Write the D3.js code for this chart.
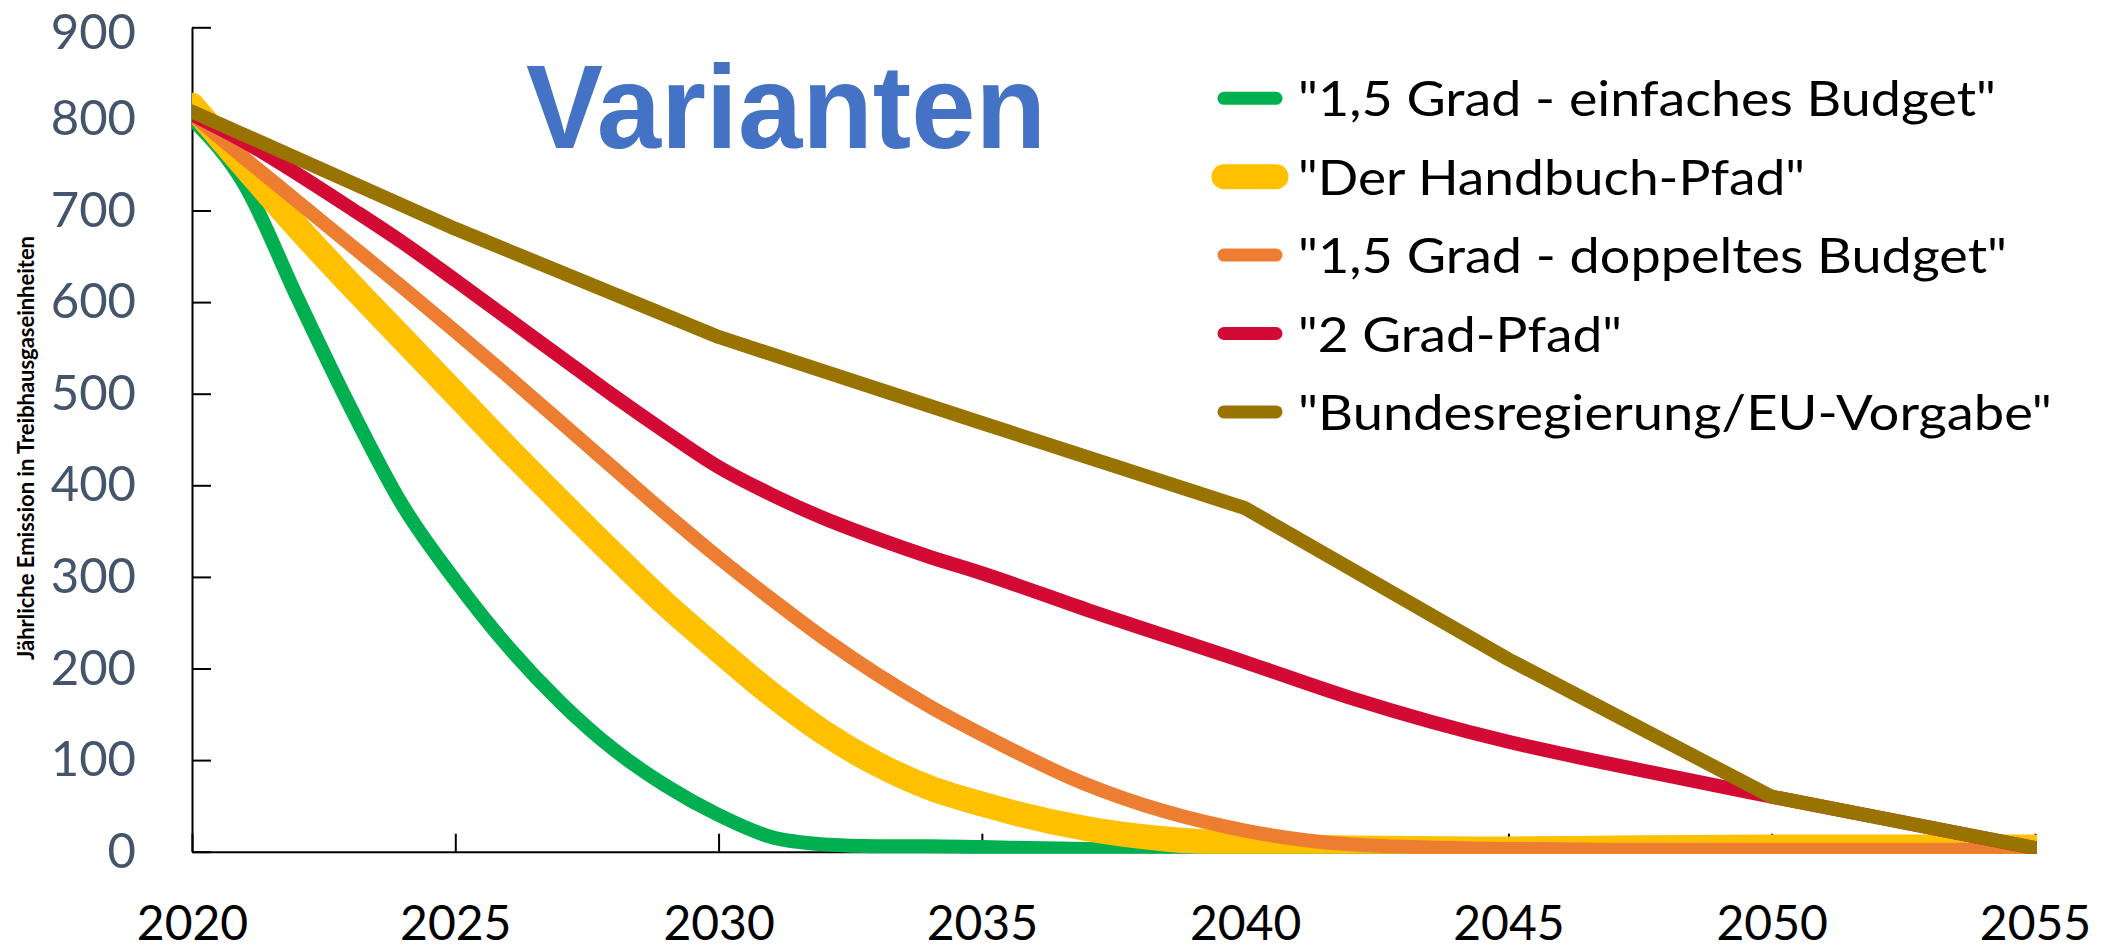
<!DOCTYPE html>
<html>
<head>
<meta charset="utf-8">
<script src="https://cdn.jsdelivr.net/npm/d3@7"></script>
<style>
  body { margin: 0; background: #fff; }
  svg { display: block; }
</style>
</head>
<body>
<div id="chart"></div>
<script>
// Years (denser where the curves bend)
const years = [2020, 2021, 2022, 2023, 2024, 2025, 2026, 2027, 2028, 2029, 2030,
               2031, 2032, 2033, 2034, 2035, 2037, 2040, 2042, 2045, 2047, 2050, 2055];

// Series values (null = not read)
const green  = [800, 728, 605, 486, 378, 296, 224, 163, 112, 72, 40, 16, 8, 6, 6, 5, 3, 1, 0, 0, 0, 0, 0];
const yellow = [815, 748, 682, 620, 560, 500, 440, 382, 325, 270, 220, 172, 130, 96, 70, 52, 25, 8, 4, 3, 4, 5, 5];
const orange = [805, 757, 710, 663, 616, 568, 519, 469, 419, 369, 321, 276, 233, 194, 159, 128, 73, 23, 8, 3, 2, 2, 2];
const red    = [805, 775, 740, 703, 665, 624, 582, 540, 498, 458, 420, 390, 364, 342, 322, 304, 264, 207, 168, 120, 95, 60, 4];
const brown  = [808, null, null, null, null, 680, null, null, null, null, 562,
                null, null, null, null, 468, null, 375, null, 210, null, 60, 4];

const seriesNames = ['"1,5 Grad - einfaches Budget"', '"Der Handbuch-Pfad"',
                     '"1,5 Grad - doppeltes Budget"', '"2 Grad-Pfad"', '"Bundesregierung/EU-Vorgabe"'];
const seriesValues = [green, yellow, orange, red, brown];

const yTicks = [0, 100, 200, 300, 400, 500, 600, 700, 800, 900];
const xTicks = [2020, 2025, 2030, 2035, 2040, 2045, 2050, 2055];

// Styling
const colors = ['#00B050', '#FFC000', '#ED7D31', '#D20A34', '#997300'];
const widths = [14, 25, 14, 14, 14];
const smooth = [true, true, true, true, false];
const legendTextWidths = [698, 507, 709, 324, 754];
const font = 'Lato, "Noto Sans", sans-serif';

const svgWidth = 2113, svgHeight = 951;
const svg = d3.select('#chart')
    .append('svg')
    .attr('width', svgWidth)
    .attr('height', svgHeight);

svg.append('rect')
    .attr('width', svgWidth)
    .attr('height', svgHeight)
    .attr('fill', '#fff');

// Scales
const x = d3.scaleLinear().domain([2020, 2055]).range([192, 2035]);
const y = d3.scaleLinear().domain([0, 900]).range([851.7, 27.3]);

// Y axis (ticks pointing inward, labels on the left)
const yAxis = svg.append('g')
    .attr('transform', `translate(${x(2020)},0)`)
    .call(d3.axisLeft(y).tickValues(yTicks).tickSizeInner(-19).tickSizeOuter(0).tickPadding(56));
yAxis.select('.domain').attr('stroke', '#000').attr('stroke-width', 2);
yAxis.selectAll('.tick line').attr('stroke', '#000').attr('stroke-width', 2);
yAxis.selectAll('.tick text')
    .attr('fill', '#44546A')
    .style('font-family', font)
    .style('font-size', '49px')
    // keep the top label inside the page
    .attr('dy', d => d === 900 ? '0.43em' : '0.32em');

// X axis (ticks pointing up)
const xAxis = svg.append('g')
    .attr('transform', `translate(0,${y(0)})`)
    .call(d3.axisBottom(x).tickValues(xTicks).tickFormat(d3.format('d'))
        .tickSizeInner(-18).tickSizeOuter(0).tickPadding(54));
xAxis.select('.domain').attr('stroke', '#000').attr('stroke-width', 2);
xAxis.selectAll('.tick line').attr('stroke', '#000').attr('stroke-width', 2);
xAxis.selectAll('.tick text')
    .attr('fill', '#000')
    .style('font-family', font)
    .style('font-size', '48px');

// Y axis title
svg.append('text')
    .attr('transform', 'translate(34,448) rotate(-90)')
    .attr('text-anchor', 'middle')
    .attr('textLength', 424)
    .attr('lengthAdjust', 'spacingAndGlyphs')
    .style('font-family', font)
    .style('font-weight', 'bold')
    .style('font-size', '22px')
    .attr('fill', '#000')
    .text('Jährliche Emission in Treibhausgaseinheiten');

// Clip lines to plot area
svg.append('clipPath')
    .attr('id', 'plot-clip')
    .append('rect')
    .attr('x', x(2020))
    .attr('y', 0)
    .attr('width', x(2055) - x(2020) + 2)
    .attr('height', y(0) + 2);

const plot = svg.append('g').attr('clip-path', 'url(#plot-clip)');

seriesValues.forEach((vals, i) => {
    const pts = years.map((yr, j) => ({ year: yr, value: vals[j] }))
        .filter(d => d.value !== null);
    const line = d3.line()
        .x(d => x(d.year))
        .y(d => y(d.value))
        .curve(smooth[i] ? d3.curveMonotoneX : d3.curveLinear);
    plot.append('path')
        .datum(pts)
        .attr('d', line)
        .attr('fill', 'none')
        .attr('stroke', colors[i])
        .attr('stroke-width', widths[i])
        .attr('stroke-linejoin', 'round')
        .attr('stroke-linecap', 'round');
});

// Title
svg.append('text')
    .attr('x', 526)
    .attr('y', 148)
    .attr('textLength', 520)
    .attr('lengthAdjust', 'spacingAndGlyphs')
    .style('font-family', '"Liberation Sans", Arial, sans-serif')
    .style('font-weight', 'bold')
    .style('font-size', '119px')
    .attr('fill', '#4472C4')
    .text('Varianten');

// Legend
const legend = svg.append('g').attr('transform', 'translate(1224,98.3)');
seriesNames.forEach((name, i) => {
    const row = legend.append('g').attr('transform', `translate(0,${i * 78.4})`);
    row.append('line')
        .attr('x1', 0).attr('x2', 52)
        .attr('y1', 0).attr('y2', 0)
        .attr('stroke', colors[i])
        .attr('stroke-width', i === 1 ? 25 : 13)
        .attr('stroke-linecap', 'round');
    row.append('text')
        .attr('x', 74)
        .attr('y', 18)
        .attr('textLength', legendTextWidths[i])
        .attr('lengthAdjust', 'spacingAndGlyphs')
        .style('font-family', font)
        .style('font-size', '49px')
        .attr('fill', '#000')
        .text(name);
});
</script>
</body>
</html>
